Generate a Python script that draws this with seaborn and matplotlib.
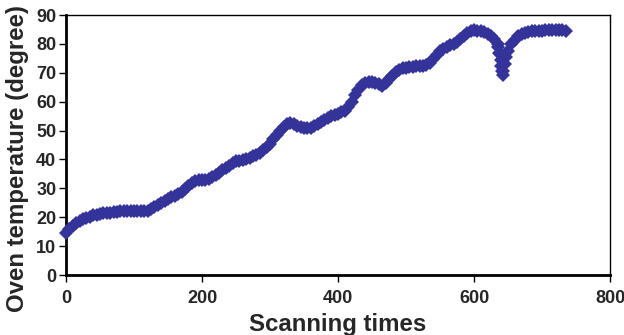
import matplotlib
matplotlib.use("Agg")
import matplotlib.pyplot as plt
import seaborn as sns
import pandas as pd

scan = [0, 5, 10, 15, 20, 25, 30, 35, 40, 45, 50, 55, 60, 65, 70, 75, 80, 85, 90, 95,
        100, 105, 110, 115, 120, 125, 130, 135, 140, 145, 150, 155, 160, 165, 170, 175,
        180, 185, 190, 195, 200, 205, 210, 215, 220, 225, 230, 235, 240, 245, 250, 255,
        260, 265, 270, 275, 280, 285, 290, 295, 300, 305, 310, 315, 320, 325, 330, 335,
        340, 345, 350, 355, 360, 365, 370, 375, 380, 385, 390, 395, 400, 405, 410, 415,
        420, 425, 430, 435, 440, 445, 450, 455, 460, 465, 470, 475, 480, 485, 490, 495,
        500, 505, 510, 515, 520, 525, 530, 535, 540, 545, 550, 555, 560, 565, 570, 575,
        580, 585, 590, 595, 600, 605, 610, 615, 620, 625, 630, 635, 636, 637, 638, 639,
        640, 641, 642, 643, 645, 647, 650, 655, 660, 665, 670, 675, 680, 685, 690, 695,
        700, 705, 710, 715, 720, 725, 730, 735]
temperature = [14.5, 15.8, 17.0, 17.9, 18.7, 19.3, 19.8, 20.2, 20.6, 20.9, 21.2, 21.4, 21.5,
               21.6, 21.8, 21.9, 22.0, 22.1, 22.2, 22.3, 22.3, 22.2, 22.1, 22.0, 22.3, 22.8,
               23.5, 24.2, 25.0, 25.6, 26.3, 26.9, 27.5, 28.2, 28.9, 29.7, 30.8, 31.8, 32.5,
               32.8, 32.9, 33.0, 33.2, 33.8, 34.6, 35.4, 36.2, 37.0, 37.9, 38.7, 39.3, 39.5,
               39.7, 40.1, 40.6, 41.1, 41.7, 42.4, 43.2, 44.2, 45.4, 47.0, 48.6, 50.0, 51.3,
               52.2, 52.5, 52.2, 51.6, 51.2, 51.0, 50.8, 51.0, 51.6, 52.4, 53.1, 53.7, 54.3,
               54.9, 55.4, 55.8, 56.3, 56.9, 58.0, 60.0, 62.3, 64.2, 65.6, 66.4, 66.8, 66.8,
               66.6, 66.0, 65.5, 66.5, 67.8, 69.0, 70.2, 71.0, 71.5, 71.8, 72.0, 72.1, 72.2,
               72.3, 72.5, 72.8, 73.5, 74.8, 76.3, 77.5, 78.4, 79.0, 79.5, 80.1, 80.8, 81.8,
               82.9, 83.8, 84.4, 84.7, 84.6, 84.4, 84.0, 83.5, 82.6, 81.6, 79.8, 79.0, 77.0,
               76.5, 74.5, 72.5, 70.5, 69.3, 70.5, 73.0, 75.5, 77.5, 79.8, 81.5, 82.6, 83.3,
               83.8, 84.1, 84.3, 84.4, 84.5, 84.6, 84.7, 84.8, 84.8, 84.9, 84.9, 84.8, 84.6]

x_ticks = [0, 200, 400, 600, 800]
y_ticks = [0, 10, 20, 30, 40, 50, 60, 70, 80, 90]

sns.set_style("white")
plt.rcParams['font.family'] = ['Liberation Sans', 'DejaVu Sans']

df = pd.DataFrame({"scan": scan, "temp": temperature})

fig = plt.figure(figsize=(6.24, 3.35), dpi=100)
ax = fig.add_axes([66 / 624, 1 - 275 / 335, (610 - 66) / 624, (275 - 15) / 335])

sns.lineplot(data=df, x="scan", y="temp", ax=ax, linestyle="-", linewidth=4.5,
             marker="D", markersize=7.2, markeredgewidth=0, color="#333399", sort=False,
             clip_on=False, zorder=3)

ax.set_xlim(0, 800)
ax.set_ylim(0, 90)
ax.set_xticks(x_ticks)
ax.set_yticks(y_ticks)
ax.set_xticklabels([str(v) for v in x_ticks], fontsize=13, fontweight="bold")
ax.set_yticklabels([str(v) for v in y_ticks], fontsize=13, fontweight="bold")
ax.set_xlabel("Scanning times", fontsize=17.3, fontweight="bold", labelpad=4)
ax.set_ylabel("Oven temperature (degree)", fontsize=17.3, fontweight="bold")
ax.yaxis.set_label_coords(-0.068, 0.448)

for side in ["left", "bottom"]:
    ax.spines[side].set_linewidth(2)
    ax.spines[side].set_color("black")
for side in ["top", "right"]:
    ax.spines[side].set_linewidth(1)
    ax.spines[side].set_color("black")
ax.tick_params(axis="y", direction="out", length=5, width=1, color="black",
               left=True, pad=2)
ax.tick_params(axis="x", direction="out", length=5, width=1, color="black",
               bottom=True, pad=6)

fig.savefig("out.png", dpi=100)
